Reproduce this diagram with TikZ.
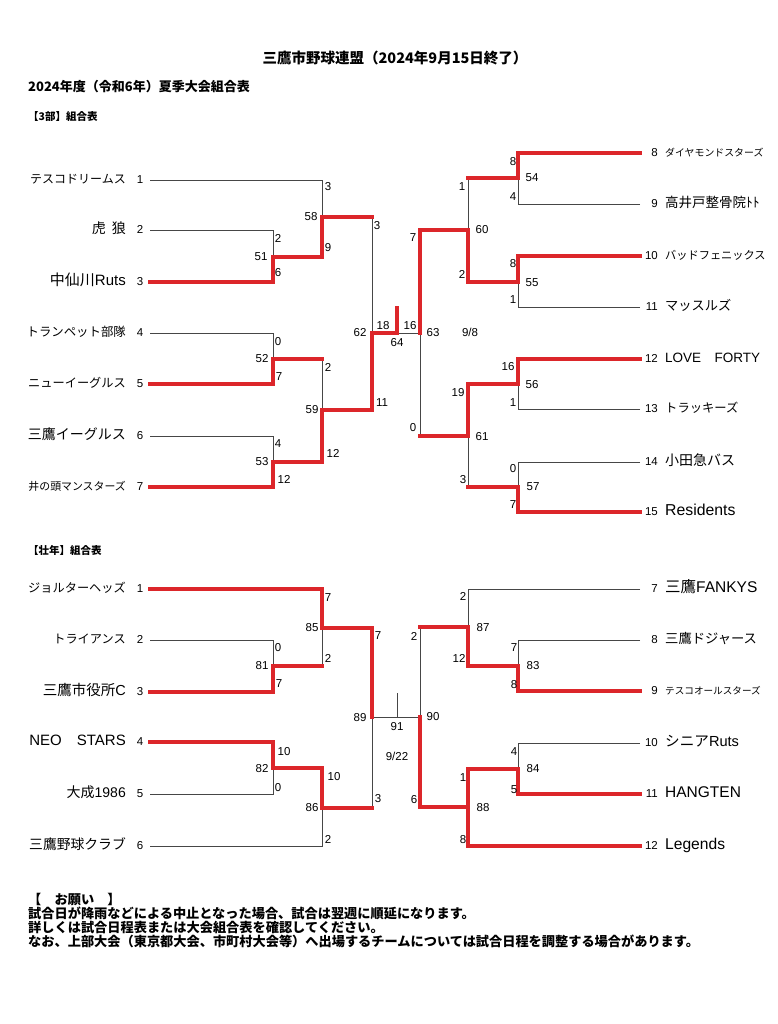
\documentclass[tikz,border=0pt]{standalone}
\usepackage{fontspec}
\setmainfont{Liberation Sans}
\newfontfamily\jp{Noto Sans CJK JP}
\definecolor{winred}{RGB}{220,38,42}
\definecolor{lostgray}{RGB}{70,70,70}

\begin{document}
\begin{tikzpicture}[x=1pt, y=-1pt,
	every node/.style={inner sep=0pt, text height=0.88em, text depth=0.12em},
	lost/.style={draw=lostgray, line width=0.8pt},
	won/.style={draw=winred, line width=3.3pt, line cap=rect},
	num/.style={font=\fontsize{11.5}{11.5}\selectfont},
	lname/.style={anchor=east, font=\jp\fontsize{#1}{#1}\selectfont},
	rname/.style={anchor=west, font=\jp\fontsize{#1}{#1}\selectfont},
	head/.style={anchor=west, font=\jp\bfseries\fontsize{#1}{#1}\selectfont}]
	\useasboundingbox (0,0) rectangle (777,1024);

	% headings
	\node[head=14.5, anchor=center] (title) at (395,60) {三鷹市野球連盟（2024年9月15日終了）};
	\node[head=13] (year) at (28,88) {2024年度（令和6年）夏季大会組合表};
	\node[head=10.5] (div3) at (28,117) {【3部】組合表};
	\node[head=10.5] (senior) at (28,551) {【壮年】組合表};

	% 3部 teams, left
	\node[lname=12] (tn1) at (126,180) {テスコドリームス};
	\node[lname=14] (tn2) at (126,230) {虎\kern6pt 狼};
	\node[lname=15] (tn3) at (126,282) {中仙川\rmfamily Ruts};
	\node[lname=12.4] (tn4) at (126,333) {トランペット部隊};
	\node[lname=12.2] (tn5) at (126,384) {ニューイーグルス};
	\node[lname=14] (tn6) at (126,436) {三鷹イーグルス};
	\node[lname=10.9] (tn7) at (126,487) {井の頭マンスターズ};
	\node[num] (tk1) at (140,180) {1};
	\node[num] (tk2) at (140,230) {2};
	\node[num] (tk3) at (140,282) {3};
	\node[num] (tk4) at (140,333) {4};
	\node[num] (tk5) at (140,384) {5};
	\node[num] (tk6) at (140,436) {6};
	\node[num] (tk7) at (140,487) {7};
	\coordinate (tp1) at (150,180);
	\coordinate (tp2) at (150,230);
	\coordinate (tp3) at (150,282);
	\coordinate (tp4) at (150,333);
	\coordinate (tp5) at (150,384);
	\coordinate (tp6) at (150,436);
	\coordinate (tp7) at (150,487);

	% 3部 teams, right
	\node[rname=9.9] (tn8) at (665,153) {ダイヤモンドスターズ};
	\node[rname=13.5] (tn9) at (665,204) {高井戸整骨院ﾄﾄ};
	\node[rname=11.2] (tn10) at (665,256) {バッドフェニックス};
	\node[rname=13.2] (tn11) at (665,307) {マッスルズ};
	\node[rname=13.5] (tn12) at (665,359) {\rmfamily LOVE\hspace{1em}FORTY};
	\node[rname=12.3] (tn13) at (665,409) {トラッキーズ};
	\node[rname=14] (tn14) at (665,462) {小田急バス};
	\node[rname=15.8] (tn15) at (665,512) {\rmfamily Residents};
	\node[num, anchor=east] (tk8) at (658,153) {8};
	\node[num, anchor=east] (tk9) at (658,204) {9};
	\node[num, anchor=east] (tk10) at (658,256) {10};
	\node[num, anchor=east] (tk11) at (658,307) {11};
	\node[num, anchor=east] (tk12) at (658,359) {12};
	\node[num, anchor=east] (tk13) at (658,409) {13};
	\node[num, anchor=east] (tk14) at (658,462) {14};
	\node[num, anchor=east] (tk15) at (658,512) {15};
	\coordinate (tp8) at (640,153);
	\coordinate (tp9) at (640,204);
	\coordinate (tp10) at (640,256);
	\coordinate (tp11) at (640,307);
	\coordinate (tp12) at (640,359);
	\coordinate (tp13) at (640,409);
	\coordinate (tp14) at (640,462);
	\coordinate (tp15) at (640,512);

	% 3部 matches
	\coordinate (m51) at (273,257);
	\coordinate (m52) at (273,359);
	\coordinate (m53) at (273,462);
	\coordinate (m58) at (322,217);
	\coordinate (m59) at (322,410);
	\coordinate (m62) at (372,333);
	\coordinate (m64) at (397,333);
	\coordinate (m64w) at (397,308);
	\coordinate (m63) at (420,333);
	\coordinate (m54) at (518,178);
	\coordinate (m55) at (518,282);
	\coordinate (m56) at (518,384);
	\coordinate (m57) at (518,487);
	\coordinate (m60) at (468,230);
	\coordinate (m61) at (468,436);

	\draw[lost] (tp1) -| (m58);
	\draw[lost] (tp2) -| (m51);
	\draw[lost] (m58 -| m62) -- (m62);
	\draw[lost] (tp4) -| (m52);
	\draw[lost] (m52 -| m59) -- (m59);
	\draw[lost] (tp6) -| (m53);
	\draw[lost] (m64) -- (m63);
	\draw[lost] (tp9) -| (m54);
	\draw[lost] (m54 -| m60) -- (m60);
	\draw[lost] (tp11) -| (m55);
	\draw[lost] (tp13) -| (m56);
	\draw[lost] (tp14) -| (m57);
	\draw[lost] (m57 -| m61) -- (m61);
	\draw[lost] (m61 -| m63) -- (m63);

	\draw[won] (tp3) -| (m51);
	\draw[won] (m51) -| (m58);
	\draw[won] (m58) -- (m58 -| m62);
	\draw[won] (tp5) -| (m52);
	\draw[won] (m52) -- (m52 -| m59);
	\draw[won] (tp7) -| (m53);
	\draw[won] (m53) -| (m59);
	\draw[won] (m59) -| (m62);
	\draw[won] (m62) -- (m64);
	\draw[won] (m64w) -- (m64);
	\draw[won] (tp8) -| (m54);
	\draw[won] (m54) -- (m54 -| m60);
	\draw[won] (tp10) -| (m55);
	\draw[won] (m55) -| (m60);
	\draw[won] (m60) -| (m63);
	\draw[won] (tp12) -| (m56);
	\draw[won] (m56) -| (m61);
	\draw[won] (tp15) -| (m57);
	\draw[won] (m57) -- (m57 -| m61);
	\draw[won] (m61) -- (m61 -| m63);

	% 3部 match numbers
	\node[num] (lab51) at (261,257) {51};
	\node[num] (lab52) at (262,359) {52};
	\node[num] (lab53) at (262,462) {53};
	\node[num] (lab58) at (311,217) {58};
	\node[num] (lab59) at (312,410) {59};
	\node[num] (lab62) at (360,333) {62};
	\node[num] (lab64) at (397,343) {64};
	\node[num] (lab63) at (433,333) {63};
	\node[num] (lab98) at (470,333) {9/8};
	\node[num] (lab54) at (532,178) {54};
	\node[num] (lab55) at (532,283) {55};
	\node[num] (lab56) at (532,385) {56};
	\node[num] (lab57) at (533,487) {57};
	\node[num] (lab60) at (482,230) {60};
	\node[num] (lab61) at (482,437) {61};

	% 3部 scores
	\node[num] (sc51u) at (278,239) {2};
	\node[num] (sc51d) at (278,273) {6};
	\node[num] (sc52u) at (278,342) {0};
	\node[num] (sc52d) at (279,377) {7};
	\node[num] (sc53u) at (278,444) {4};
	\node[num] (sc53d) at (284,480) {12};
	\node[num] (sc58u) at (328,187) {3};
	\node[num] (sc58d) at (328,248) {9};
	\node[num] (sc59u) at (328,368) {2};
	\node[num] (sc59d) at (333,454) {12};
	\node[num] (sc62u) at (377,226) {3};
	\node[num] (sc62d) at (382,403) {11};
	\node[num] (sc64l) at (383,326) {18};
	\node[num] (sc64r) at (410,326) {16};
	\node[num] (sc54u) at (513,162) {8};
	\node[num] (sc54d) at (513,197) {4};
	\node[num] (sc55u) at (513,264) {8};
	\node[num] (sc55d) at (513,300) {1};
	\node[num] (sc56u) at (508,367) {16};
	\node[num] (sc56d) at (513,403) {1};
	\node[num] (sc57u) at (513,469) {0};
	\node[num] (sc57d) at (513,505) {7};
	\node[num] (sc60u) at (462,187) {1};
	\node[num] (sc60d) at (462,275) {2};
	\node[num] (sc61u) at (458,393) {19};
	\node[num] (sc61d) at (463,480) {3};
	\node[num] (sc63u) at (413,238) {7};
	\node[num] (sc63d) at (413,428) {0};

	% 壮年 teams, left
	\node[lname=12.2] (bn1) at (126,589) {ジョルターヘッズ};
	\node[lname=12.2] (bn2) at (126,640) {トライアンス};
	\node[lname=14.5] (bn3) at (126,692) {三鷹市役所\rmfamily C};
	\node[lname=15] (bn4) at (126,742) {\rmfamily NEO\hspace{1em}STARS};
	\node[lname=14] (bn5) at (126,794) {大成\rmfamily 1986};
	\node[lname=13.8] (bn6) at (126,846) {三鷹野球クラブ};
	\node[num] (bk1) at (140,589) {1};
	\node[num] (bk2) at (140,640) {2};
	\node[num] (bk3) at (140,692) {3};
	\node[num] (bk4) at (140,742) {4};
	\node[num] (bk5) at (140,794) {5};
	\node[num] (bk6) at (140,846) {6};
	\coordinate (bp1) at (150,589);
	\coordinate (bp2) at (150,640);
	\coordinate (bp3) at (150,692);
	\coordinate (bp4) at (150,742);
	\coordinate (bp5) at (150,794);
	\coordinate (bp6) at (150,846);

	% 壮年 teams, right
	\node[rname=15.5] (bn7) at (665,589) {三鷹\rmfamily FANKYS};
	\node[rname=13.3] (bn8) at (665,640) {三鷹ドジャース};
	\node[rname=9.6] (bn9) at (665,691) {テスコオールスターズ};
	\node[rname=14.6] (bn10) at (665,743) {シニア\rmfamily Ruts};
	\node[rname=15.5] (bn11) at (665,794) {\rmfamily HANGTEN};
	\node[rname=15.6] (bn12) at (665,846) {\rmfamily Legends};
	\node[num, anchor=east] (bk7) at (658,589) {7};
	\node[num, anchor=east] (bk8) at (658,640) {8};
	\node[num, anchor=east] (bk9) at (658,691) {9};
	\node[num, anchor=east] (bk10) at (658,743) {10};
	\node[num, anchor=east] (bk11) at (658,794) {11};
	\node[num, anchor=east] (bk12) at (658,846) {12};
	\coordinate (bp7) at (640,589);
	\coordinate (bp8) at (640,640);
	\coordinate (bp9) at (640,691);
	\coordinate (bp10) at (640,743);
	\coordinate (bp11) at (640,794);
	\coordinate (bp12) at (640,846);

	% 壮年 matches
	\coordinate (m81) at (273,666);
	\coordinate (m82) at (273,768);
	\coordinate (m85) at (322,628);
	\coordinate (m86) at (322,808);
	\coordinate (m89) at (372,717);
	\coordinate (m91) at (397,717);
	\coordinate (m91s) at (397,693);
	\coordinate (m90) at (420,717);
	\coordinate (m83) at (518,666);
	\coordinate (m84) at (518,769);
	\coordinate (m87) at (468,627);
	\coordinate (m88) at (468,807);

	\draw[lost] (bp2) -| (m81);
	\draw[lost] (m81 -| m85) -- (m85);
	\draw[lost] (bp5) -| (m82);
	\draw[lost] (bp6) -| (m86);
	\draw[lost] (m86 -| m89) -- (m89);
	\draw[lost] (m89) -- (m90);
	\draw[lost] (m91s) -- (m91);
	\draw[lost] (bp7) -| (m87);
	\draw[lost] (bp8) -| (m83);
	\draw[lost] (m87 -| m90) -- (m90);
	\draw[lost] (bp10) -| (m84);

	\draw[won] (bp1) -| (m85);
	\draw[won] (bp3) -| (m81);
	\draw[won] (m81) -- (m81 -| m85);
	\draw[won] (m85) -| (m89);
	\draw[won] (bp4) -| (m82);
	\draw[won] (m82) -| (m86);
	\draw[won] (m86) -- (m86 -| m89);
	\draw[won] (bp9) -| (m83);
	\draw[won] (m83) -| (m87);
	\draw[won] (m87) -- (m87 -| m90);
	\draw[won] (bp11) -| (m84);
	\draw[won] (m84) -| (m88);
	\draw[won] (bp12) -| (m88);
	\draw[won] (m88) -| (m90);

	% 壮年 match numbers
	\node[num] (lab81) at (262,666) {81};
	\node[num] (lab82) at (262,769) {82};
	\node[num] (lab85) at (312,628) {85};
	\node[num] (lab86) at (312,808) {86};
	\node[num] (lab89) at (360,718) {89};
	\node[num] (lab91) at (397,727) {91};
	\node[num] (lab922) at (397,757) {9/22};
	\node[num] (lab90) at (433,717) {90};
	\node[num] (lab83) at (533,666) {83};
	\node[num] (lab84) at (533,769) {84};
	\node[num] (lab87) at (483,628) {87};
	\node[num] (lab88) at (483,808) {88};

	% 壮年 scores
	\node[num] (sc81u) at (278,648) {0};
	\node[num] (sc81d) at (279,684) {7};
	\node[num] (sc82u) at (284,752) {10};
	\node[num] (sc82d) at (278,788) {0};
	\node[num] (sc85u) at (328,598) {7};
	\node[num] (sc85d) at (328,659) {2};
	\node[num] (sc86u) at (334,777) {10};
	\node[num] (sc86d) at (328,840) {2};
	\node[num] (sc89u) at (378,636) {7};
	\node[num] (sc89d) at (378,799) {3};
	\node[num] (sc83u) at (514,648) {7};
	\node[num] (sc83d) at (514,685) {8};
	\node[num] (sc84u) at (514,752) {4};
	\node[num] (sc84d) at (514,790) {5};
	\node[num] (sc87u) at (463,597) {2};
	\node[num] (sc87d) at (459,659) {12};
	\node[num] (sc88u) at (463,778) {1};
	\node[num] (sc88d) at (463,840) {8};
	\node[num] (sc90u) at (414,637) {2};
	\node[num] (sc90d) at (414,800) {6};

	% notes
	\node[head=13.2] (note0) at (28,901) {【　お願い　】};
	\node[head=13.2] (note1) at (28,915) {試合日が降雨などによる中止となった場合、試合は翌週に順延になります。};
	\node[head=13.2] (note2) at (28,929) {詳しくは試合日程表または大会組合表を確認してください。};
	\node[head=13.2] (note3) at (28,943) {なお、上部大会（東京都大会、市町村大会等）へ出場するチームについては試合日程を調整する場合があります。};
\end{tikzpicture}
\end{document}
